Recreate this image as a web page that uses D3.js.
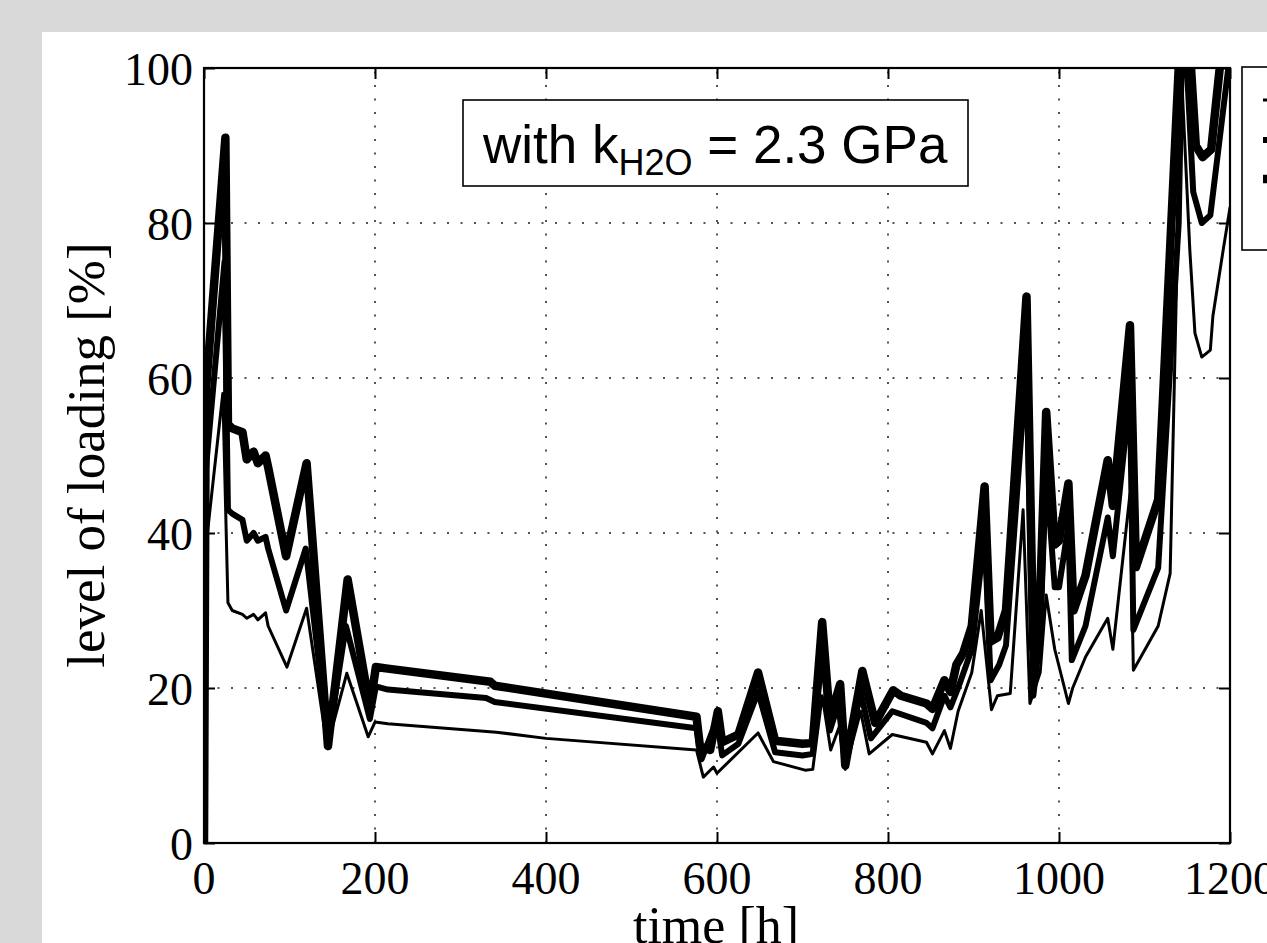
<!DOCTYPE html>
<html>
<head>
<meta charset="utf-8">
<script src="https://cdn.jsdelivr.net/npm/d3@7"></script>
<style>
  html, body { margin: 0; padding: 0; background: #d9d9d9; }
  svg { display: block; }
</style>
</head>
<body>
<svg id="chart" width="1267" height="943"></svg>
<script>
// ---------- data ----------
const xTicks = [0, 200, 400, 600, 800, 1000, 1200];
const yTicks = [0, 20, 40, 60, 80, 100];

// thick series
const thickTime = [0,2,25,28,33,45,50,58,63,72,75,96,120,145,168,194,201,215,335,340,576,580,592,601,606,625,648,668,700,712,723,732,744,750,770,785,806,815,845,852,866,873,880,888,898,913,920,928,938,962,970,978,985,995,1000,1011,1017,1031,1057,1063,1083,1090,1116,1140,1146,1160,1168,1178,1188,1200];
const thickLoad = [0,58,91,54,53.5,53,49.5,50.5,49,50,48.5,37,49,12.5,34,17.5,22.7,22.5,20.8,20.3,16.3,12.5,12,17,13,14,22,13.2,12.8,12.9,28.5,16,20.5,10,22.2,15.5,19.7,19,18,17.3,21,19.5,23,24.5,28,46,26,26.5,30,70.5,25,32,55.6,38.5,39,46.4,30,34.5,49.4,43.5,66.8,35.6,44.3,100,115,90,88.5,89.5,100,112];

// medium series
const mediumTime = [0,2,24,28,33,45,50,58,63,72,75,96,119,145,166,194,201,215,330,340,576,582,600,606,625,648,668,700,712,723,732,742,750,768,780,805,845,852,866,873,882,898,913,920,930,938,962,970,978,985,995,1000,1011,1015,1031,1057,1063,1083,1087,1116,1140,1145,1157,1167,1177,1198,1205];
const mediumLoad = [0,48,75,43,42.5,41.7,39,40,39,39.5,38,30,38,13,28,16,20.2,19.8,18.7,18.2,14.8,10.8,16,11.3,12.8,19.5,11.7,11.3,11.5,25,14.5,18,10,19.5,13.5,17,15.5,14.8,19,17.5,20,25,40,21,23,25.5,62,19,27,48,33,33,41,23.6,28,42,37,58,27.5,35.5,80,110,84,80,81,100,108];

// thin series
const thinTime = [0,2,22,28,33,45,50,58,63,72,75,97,120,144,167,192,200,215,342,400,576,584,596,600,648,666,703,712,723,733,743,750,768,778,805,845,852,866,873,882,898,909,921,928,943,958,966,978,985,995,1011,1016,1031,1057,1063,1083,1087,1116,1130,1143,1153,1159,1167,1177,1180,1192,1200];
const thinLoad = [0,38,58,31,30,29.5,29,29.5,28.8,29.7,28,22.7,30.3,12.4,21.9,13.7,15.6,15.4,14.3,13.5,12,8.5,9.8,9,14.2,10.5,9.4,9.5,19,12,15,9.5,17,11.5,14,13,11.5,14.5,12.2,17,22,30,17.2,19,19.3,43,18,22,32,25,18,20,24,29,25,45,22.3,28,34.8,100,76.5,65.8,62.7,63.6,68,76.5,82];

const seriesWidths = [3, 6, 8.5]; // thin, medium, thick (style)

// ---------- layout ----------
const svg = d3.select("#chart");
const W = 1267, H = 943;
const plot = { left: 204, right: 1230, top: 68, bottom: 843 };

svg.append("rect").attr("x", 0).attr("y", 0).attr("width", W).attr("height", H).attr("fill", "#d9d9d9");
svg.append("rect").attr("x", 42).attr("y", 32).attr("width", W - 42).attr("height", H - 32).attr("fill", "#ffffff");

const x = d3.scaleLinear().domain([0, 1200]).range([plot.left, plot.right]);
const y = d3.scaleLinear().domain([0, 100]).range([plot.bottom, plot.top]);

// grid (dotted)
const grid = svg.append("g").attr("stroke", "#555").attr("stroke-width", 2).attr("stroke-dasharray", "2,11.5");
grid.selectAll("line.gx").data(xTicks.slice(1, -1)).join("line")
  .attr("x1", d => x(d)).attr("x2", d => x(d)).attr("y1", plot.bottom).attr("y2", plot.top);
grid.selectAll("line.gy").data(yTicks.slice(1, -1)).join("line")
  .attr("y1", d => y(d)).attr("y2", d => y(d)).attr("x1", plot.left).attr("x2", plot.right);

// clip
svg.append("clipPath").attr("id", "clip").append("rect")
  .attr("x", plot.left).attr("y", plot.top)
  .attr("width", plot.right - plot.left).attr("height", plot.bottom - plot.top);

const line = d3.line().x(d => x(d[0])).y(d => y(d[1]));
const series = [
  { t: thinTime, v: thinLoad, w: seriesWidths[0] },
  { t: mediumTime, v: mediumLoad, w: seriesWidths[1] },
  { t: thickTime, v: thickLoad, w: seriesWidths[2] }
];
const lines = svg.append("g").attr("clip-path", "url(#clip)");
series.slice().reverse().forEach(s => {
  lines.append("path")
    .datum(s.t.map((t, i) => [t, s.v[i]]))
    .attr("d", line)
    .attr("fill", "none")
    .attr("stroke", "#000")
    .attr("stroke-width", s.w)
    .attr("stroke-linejoin", "round")
    .attr("stroke-linecap", "round");
});

// axes (box with inward ticks on all sides)
const tickLen = 11;
const axBottom = d3.axisBottom(x).tickValues(xTicks).tickSize(-tickLen).tickFormat("");
const axTop = d3.axisTop(x).tickValues(xTicks).tickSize(-tickLen).tickFormat("");
const axLeft = d3.axisLeft(y).tickValues(yTicks).tickSize(-tickLen).tickFormat("");
const axRight = d3.axisRight(y).tickValues(yTicks).tickSize(-tickLen).tickFormat("");
function styleAxis(g) {
  g.select(".domain").remove();
  g.selectAll(".tick line").attr("stroke", "#000").attr("stroke-width", 2);
}
svg.append("g").attr("transform", `translate(0,${plot.bottom})`).call(axBottom).call(styleAxis);
svg.append("g").attr("transform", `translate(0,${plot.top})`).call(axTop).call(styleAxis);
svg.append("g").attr("transform", `translate(${plot.left},0)`).call(axLeft).call(styleAxis);
svg.append("g").attr("transform", `translate(${plot.right},0)`).call(axRight).call(styleAxis);

svg.append("rect")
  .attr("x", plot.left).attr("y", plot.top)
  .attr("width", plot.right - plot.left).attr("height", plot.bottom - plot.top)
  .attr("fill", "none").attr("stroke", "#000").attr("stroke-width", 2.2);

// tick labels
const serif = "'Liberation Serif', 'Times New Roman', serif";
svg.append("g").selectAll("text").data(xTicks).join("text")
  .attr("x", d => x(d)).attr("y", 894)
  .attr("text-anchor", "middle")
  .attr("font-family", serif).attr("font-size", 46).attr("fill", "#000")
  .text(d => d);
svg.append("g").selectAll("text").data(yTicks).join("text")
  .attr("x", 193).attr("y", d => y(d) + 17)
  .attr("text-anchor", "end")
  .attr("font-family", serif).attr("font-size", 46).attr("fill", "#000")
  .text(d => d);

// axis titles
svg.append("text")
  .attr("x", 716).attr("y", 943)
  .attr("text-anchor", "middle")
  .attr("font-family", serif).attr("font-size", 52).attr("fill", "#000")
  .text("time [h]");
svg.append("text")
  .attr("transform", "translate(104,455) rotate(-90)")
  .attr("text-anchor", "middle")
  .attr("font-family", serif).attr("font-size", 53).attr("fill", "#000")
  .text("level of loading [%]");

// annotation box
const sans = "'Liberation Sans', Arial, sans-serif";
svg.append("rect").attr("x", 463).attr("y", 100).attr("width", 505).attr("height", 86)
  .attr("fill", "#fff").attr("stroke", "#000").attr("stroke-width", 1.6);
const ann = svg.append("text").attr("x", 483).attr("y", 163)
  .attr("font-family", sans).attr("font-size", 53).attr("fill", "#000");
ann.append("tspan").text("with k");
ann.append("tspan").attr("font-size", 36).attr("dy", 12).text("H2O");
ann.append("tspan").attr("dy", -12).text(" = 2.3 GPa");

// legend box (cut by the right edge)
svg.append("rect").attr("x", 1242).attr("y", 67).attr("width", 80).attr("height", 183)
  .attr("fill", "#fff").attr("stroke", "#000").attr("stroke-width", 1.6);
const legY = [100, 140, 179];
svg.append("g").selectAll("line").data(seriesWidths).join("line")
  .attr("x1", 1263).attr("x2", 1320)
  .attr("y1", (d, i) => legY[i]).attr("y2", (d, i) => legY[i])
  .attr("stroke", "#000").attr("stroke-width", d => d);
</script>
</body>
</html>
